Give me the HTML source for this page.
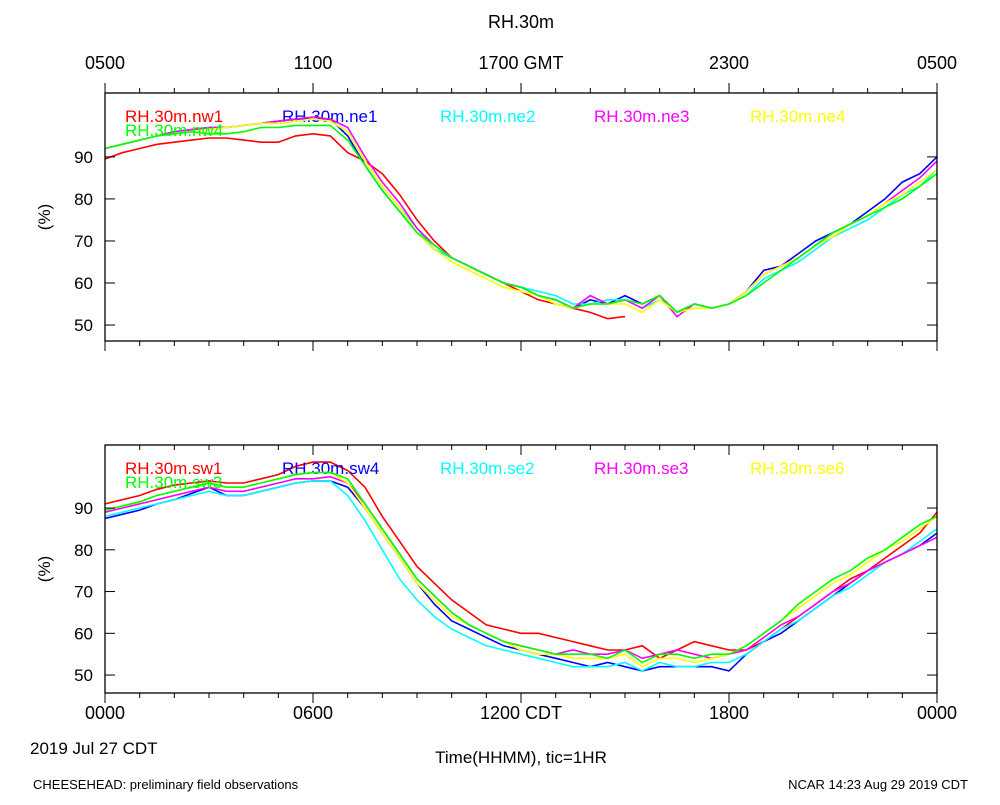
<!DOCTYPE html>
<html><head><meta charset="utf-8"><style>
body{margin:0;background:#fff;}
svg text{font-family:"Liberation Sans",sans-serif;fill:#000;}
</style></head><body>
<svg id="c" width="1000" height="800" xmlns="http://www.w3.org/2000/svg">
<text x="521" y="28" font-size="18" text-anchor="middle">RH.30m</text>
<text x="30" y="754" font-size="17">2019 Jul 27 CDT</text>
<text x="521" y="763" font-size="17" text-anchor="middle">Time(HHMM), tic=1HR</text>
<text x="33" y="789" font-size="13">CHEESEHEAD: preliminary field observations</text>
<text x="968" y="789" font-size="13" text-anchor="end">NCAR 14:23 Aug 29 2019 CDT</text>
</svg>
<script>
const topNames=["RH.30m.nw1","RH.30m.ne1","RH.30m.ne2","RH.30m.ne3","RH.30m.ne4","RH.30m.nw4"];
const botNames=["RH.30m.sw1","RH.30m.sw4","RH.30m.se2","RH.30m.se3","RH.30m.se6","RH.30m.sw3"];
const colors=["#ff0000","#0000ff","#00ffff","#ff00ff","#ffff00","#00ff00"];
const yTicks=[50,60,70,80,90];
const topXLabels=["0500","1100","1700 GMT","2300","0500"];
const botXLabels=["0000","0600","1200 CDT","1800","0000"];
const nw1=[89.5,91,92,93,93.5,94,94.5,94.5,94,93.5,93.5,95,95.5,95,91,89,86,81,75,70,66,64,62,60,58,56,55,54,53,51.5,52,null,null,null,null,null,null,null,null,null,null,null,null,null,null,null,null,null,null];
const ne1=[92,93,94,95,96,96.5,97,97,97.5,98,98.5,99,99,99,95,88,82,77,72,68,66,64,62,60,59,57,56,54,56,55,57,55,57,53,55,54,55,58,63,64,67,70,72,74,77,80,84,86,90];
const ne2=[92,93,94,95,96,96.5,97,97,97.5,98,98,98.5,99,98.5,96,89,83,78,73,68,66,64,62,60,59,58,57,55,55,56,56,54,56,53,54,54,55,57,61,63,65,68,71,73,75,78,81,83,87];
const ne3=[92,93,94,95,96,96.5,97,97,97.5,98,98.5,99,99.5,99,97,90,84,79,73,69,66,64,62,60,59,57,56,54,57,55,56,54,57,52,55,54,55,58,62,64,66,69,72,74,76,79,82,85,89];
const ne4=[92,93,94,95,95.5,96,96.5,97,97.5,98,98,98.5,99,98.5,96,89,83,78,72,68,65,63,61,59,58,57,55,54,55,55,55,53,56,53,54,54,55,58,62,64,66,69,71,74,76,79,81,84,87];
const nw4=[92,93,94,95,95.5,96,95.5,95.5,96,97,97,97.5,97.5,97.5,94,88,82,77,72,69,66,64,62,60,59,57,56,54,55,55,56,55,57,53,55,54,55,57,60,63,66,69,72,74,76,78,80,83,86];
const sw1=[91,92,93,94.5,95.5,96,96.5,96,96,97,98,100,101,101,99,95,88,82,76,72,68,65,62,61,60,60,59,58,57,56,56,57,54,56,58,57,56,56,58,61,64,67,70,73,75,78,81,84,89];
const sw4=[87.5,88.5,89.5,91,92,93.5,95,93,93,94,95,96,96.5,96.5,95,90,84,78,72,67,63,61,59,57,56,55,54,53,52,53,52,51,52,52,52,52,51,55,58,60,63,66,69,72,75,77,79,81,84];
const se2=[88,89,90,91,92,93,94,93,93,94,95,96,96.5,96.5,93,87,80,73,68,64,61,59,57,56,55,54,53,52,52,52,53,51,53,52,52,53,53,55,58,61,63,66,69,71,74,77,79,82,85];
const se3=[89,90,91,92,93,94,95,94,94,95,96,97,97,97.5,96,91,85,79,73,69,65,62,60,58,57,56,55,56,55,55,56,54,55,56,55,54,55,56,59,62,64,67,70,72,75,77,79,81,83];
const se6=[89.5,90.5,91.5,93,94,95,96,95,95,96,97,98,98.5,98.5,96,90,84,78,72,68,64,62,60,58,56,55,55,54,54,54,55,52,54,54,53,54,55,57,60,63,66,69,72,74,77,80,82,85,88];
const sw3=[89.5,90.5,91.5,93,94,95,96,95,95,96,97,98,98.5,98.5,97,91,85,79,73,69,65,62,60,58,57,56,55,55,55,54,56,53,55,55,54,55,55,57,60,63,67,70,73,75,78,80,83,86,88];
const topSeries=[nw1,ne1,ne2,ne3,ne4,nw4];
const botSeries=[sw1,sw4,se2,se3,se6,sw3];
const NS="http://www.w3.org/2000/svg";
const svg=document.getElementById('c');
const X0=105,X1=937;
function xs(h){return X0+(X1-X0)*h/24;}
function mk(tag,attrs,parent){const e=document.createElementNS(NS,tag);for(const k in attrs)e.setAttribute(k,attrs[k]);(parent||svg).appendChild(e);return e;}
function panel(yTop,yBot,vMin,vMax,series,names,xLabels,isTop,key){
  const ys=v=>yBot-(v-vMin)/(vMax-vMin)*(yBot-yTop);
  const g=mk('g',{});
  
  
  series.forEach((s,i)=>{
    let d='',pen=false;
    s.forEach((v,j)=>{if(v===null){pen=false;return;}d+=(pen?'L':'M')+xs(j*0.5).toFixed(1)+' '+ys(v).toFixed(1);pen=true;});
    const p=mk('path',{d:d,fill:'none',stroke:colors[i],'stroke-width':1.6},g);
    
    
    const lx=[125,282,440,594,750,125][i], ly=yTop+(i===5?43:29);
    const t=mk('text',{x:lx,y:ly,'font-size':17,style:'fill:'+colors[i]},g);
    t.textContent=names[i];
    
    
  });
  const fr=mk('rect',{x:X0,y:yTop,width:X1-X0,height:yBot-yTop,fill:'none',stroke:'#000','stroke-width':1.3},g);
  
  
  yTicks.forEach(v=>{
    const y=ys(v);
    mk('line',{x1:X0,x2:X0+10,y1:y,y2:y,stroke:'#000'},g);
    mk('line',{x1:X1-10,x2:X1,y1:y,y2:y,stroke:'#000'},g);
    const t=mk('text',{x:93,y:y+6,'font-size':17,'text-anchor':'end'},g);
    t.textContent=v;
    
    
  });
  for(let h=0;h<=24;h++){
    const x=xs(h),len=h%6===0?10:5;
    mk('line',{x1:x,x2:x,y1:yBot,y2:yBot+len,stroke:'#000'},g);
    if(isTop)mk('line',{x1:x,x2:x,y1:yTop,y2:yTop-len,stroke:'#000'},g);
    else mk('line',{x1:x,x2:x,y1:yTop,y2:yTop+len,stroke:'#000'},g);
  }
  xLabels.forEach((l,i)=>{
    const t=mk('text',{x:xs(i*6),y:isTop?yTop-24:yBot+26,'font-size':18,'text-anchor':'middle'},g);
    t.textContent=l;
    
    
  });
  const yt=mk('text',{x:0,y:0,'font-size':17,'text-anchor':'middle',transform:'translate(50,'+((yTop+yBot)/2)+') rotate(-90)'},g);
  yt.textContent='(%)';
  
  
}
panel(93,341,46.2,105.2,topSeries,topNames,topXLabels,true,'top');
panel(445,693,45.7,105.1,botSeries,botNames,botXLabels,false,'bottom');
</script>
</body></html>
